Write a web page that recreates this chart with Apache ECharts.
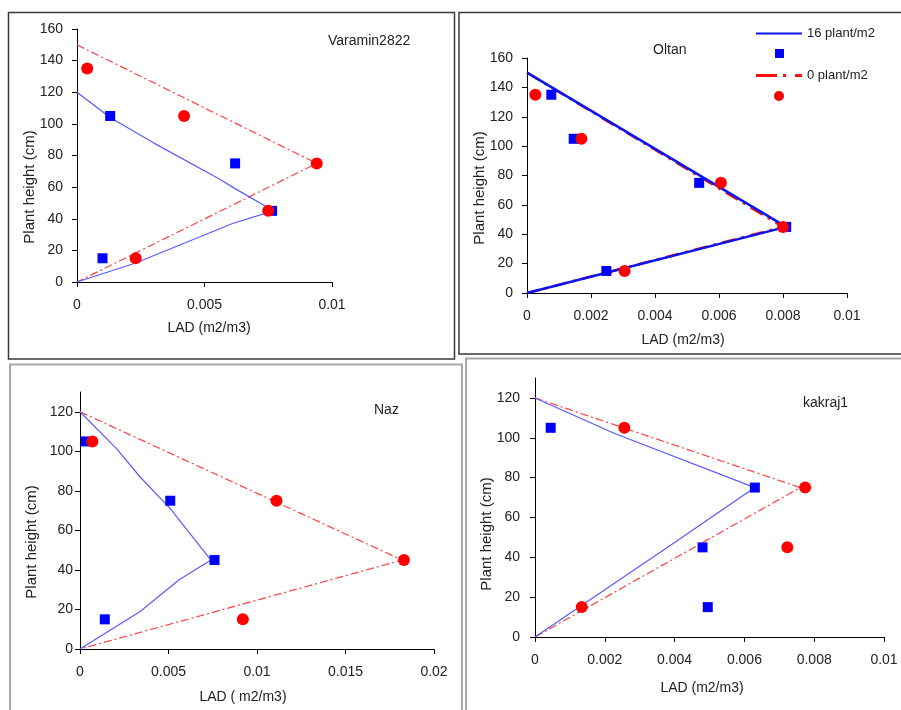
<!DOCTYPE html>
<html>
<head>
<meta charset="utf-8">
<script src="https://cdn.jsdelivr.net/npm/echarts@6/dist/echarts.min.js"></script>
<style>
  html, body { margin: 0; padding: 0; background: #fff; }
  #chart { width: 901px; height: 710px; }
</style>
</head>
<body>
<div id="chart"></div>
<script>
"use strict";

// observed sampling heights (cm)
const obsHeights = [135, 105, 75, 45, 15];

// Varamin2822 (LAD m2/m3)
const varaminObs16 = [null, 0.0013, 0.0062, 0.00765, 0.001];
const varaminObs0 = [0.0004, 0.0042, 0.0094, 0.0075, 0.0023];
const varaminFitH16 = [120, 104, 88, 65, 60, 45, 37, 12, 0];
const varaminFit16 = [0, 0.0013, 0.003, 0.0056, 0.0061, 0.0077, 0.0061, 0.0023, 0];
const varaminFitH0 = [150, 75, 0];
const varaminFit0 = [0, 0.0094, 0];

// Oltan
const oltanObs16 = [0.00076, 0.00146, 0.00538, 0.0081, 0.00248];
const oltanObs0 = [0.00026, 0.0017, 0.00606, 0.008, 0.00305];
const oltanFitH16 = [150, 45, 0];
const oltanFit16 = [0, 0.0081, 0];
const oltanFitH0 = [150, 45, 0];
const oltanFit0 = [0, 0.008, 0];

// Naz
const nazObs16 = [null, 0.00034, 0.0051, 0.0076, 0.0014];
const nazObs0 = [null, 0.0007, 0.0111, 0.0183, 0.0092];
const nazFitH16 = [120, 101, 87, 71, 45, 35, 19, 9.5, 0];
const nazFit16 = [0, 0.0021, 0.0034, 0.0051, 0.0074, 0.0056, 0.0034, 0.0017, 0];
const nazFitH0 = [120, 45, 0];
const nazFit0 = [0, 0.0182, 0];

// kakraj1
const kakrajObs16 = [null, 0.00045, 0.0063, 0.0048, 0.00495];
const kakrajObs0 = [null, 0.00256, 0.00774, 0.00723, 0.00134];
const kakrajFitH16 = [120, 102, 75, 45, 0];
const kakrajFit16 = [0, 0.0023, 0.0063, 0.0038, 0];
const kakrajFitH0 = [120, 75, 0];
const kakrajFit0 = [0, 0.0076, 0];

const FONT = '"Liberation Sans", Arial, sans-serif';
const TXT = '#222';

function pairs(xs, ys) {
  let out = [];
  for (let i = 0; i < xs.length; i++) {
    if (xs[i] !== null) out.push([xs[i], ys[i]]);
  }
  return out;
}

// one panel = grid + axes + 4 series
const panels = [
  {
    name: 'Varamin2822', grid: {left: 77, top: 29, width: 255, height: 253},
    xMax: 0.01, xStep: 0.005, yMax: 160, yLabelMargin: 14,
    obs16: varaminObs16, obs0: varaminObs0,
    fit16: [varaminFit16, varaminFitH16], fit0: [varaminFit0, varaminFitH0],
    thick: false
  },
  {
    name: 'Oltan', grid: {left: 527, top: 58, width: 320, height: 235},
    xMax: 0.01, xStep: 0.002, yMax: 160, yLabelMargin: 14,
    obs16: oltanObs16, obs0: oltanObs0,
    fit16: [oltanFit16, oltanFitH16], fit0: [oltanFit0, oltanFitH0],
    thick: true
  },
  {
    name: 'Naz', grid: {left: 80, top: 392, width: 354, height: 257},
    xMax: 0.02, xStep: 0.005, yMax: 130, yLabelMargin: 7,
    obs16: nazObs16, obs0: nazObs0,
    fit16: [nazFit16, nazFitH16], fit0: [nazFit0, nazFitH0],
    thick: false
  },
  {
    name: 'kakraj1', grid: {left: 535, top: 378, width: 349, height: 259},
    xMax: 0.01, xStep: 0.002, yMax: 130, yLabelMargin: 15,
    obs16: kakrajObs16, obs0: kakrajObs0,
    fit16: [kakrajFit16, kakrajFitH16], fit0: [kakrajFit0, kakrajFitH0],
    thick: false
  }
];

const axisLine = {show: true, onZero: false, lineStyle: {color: '#000', width: 1}};
const axisTick = {show: true, inside: false, length: 5, lineStyle: {color: '#000'}};

let grids = [], xAxes = [], yAxes = [], series = [];

panels.forEach((p, i) => {
  grids.push(Object.assign({containLabel: false}, p.grid));

  xAxes.push({
    type: 'value', gridIndex: i, min: 0, max: p.xMax, interval: p.xStep,
    axisLine: axisLine, axisTick: axisTick, splitLine: {show: false},
    axisLabel: {color: TXT, fontFamily: FONT, fontSize: 14, margin: 16}
  });

  let yTicks = [];
  for (let v = 0; v <= 160 && v <= p.yMax; v += 20) yTicks.push(v);
  yAxes.push({
    type: 'value', gridIndex: i, min: 0, max: p.yMax,
    axisLine: axisLine, splitLine: {show: false},
    axisTick: Object.assign({customValues: yTicks}, axisTick),
    axisLabel: {color: TXT, fontFamily: FONT, fontSize: 14, margin: p.yLabelMargin, customValues: yTicks}
  });

  let blueLine = p.thick ? {color: '#0a14f0', width: 2.5} : {color: '#5a5aff', width: 1.2};
  let redLine = p.thick
    ? {color: '#ff1010', width: 2.5, type: [14, 6, 3, 6]}
    : {color: '#ff4040', width: 1.2, type: [8, 3, 2, 3]};
  let tag = i === 1 ? '' : p.name + ' ';

  series.push({
    name: tag + '0 plant/m2', type: 'line', xAxisIndex: i, yAxisIndex: i,
    data: pairs(p.fit0[0], p.fit0[1]), symbol: 'none', lineStyle: redLine,
    itemStyle: {color: redLine.color}, silent: true, animation: false, z: 2
  });
  series.push({
    name: tag + '16 plant/m2', type: 'line', xAxisIndex: i, yAxisIndex: i,
    data: pairs(p.fit16[0], p.fit16[1]), symbol: 'none', lineStyle: blueLine,
    itemStyle: {color: blueLine.color}, silent: true, animation: false, z: 3
  });
  series.push({
    name: tag + '16 obs', type: 'scatter', xAxisIndex: i, yAxisIndex: i,
    data: pairs(p.obs16, obsHeights), symbol: 'rect', symbolSize: 10,
    itemStyle: {color: '#0000ff', opacity: 1}, animation: false, z: 4
  });
  series.push({
    name: tag + '0 obs', type: 'scatter', xAxisIndex: i, yAxisIndex: i,
    data: pairs(p.obs0, obsHeights), symbol: 'circle', symbolSize: 12,
    itemStyle: {color: '#ff0000', opacity: 1}, animation: false, z: 5
  });
});

// panel titles
const titles = [
  {text: 'Varamin2822', left: 328, top: 34},
  {text: 'Oltan', left: 653, top: 43},
  {text: 'Naz', left: 374, top: 403},
  {text: 'kakraj1', left: 803, top: 396}
].map(t => Object.assign(t, {
  padding: 0,
  textStyle: {color: TXT, fontFamily: FONT, fontSize: 14, fontWeight: 'normal'}
}));

// axis titles, centre positions
const yNames = [[30, 187], [480, 188], [32, 542], [487, 534]];
const xNames = [[209, 328, 'LAD (m2/m3)'], [683, 340, 'LAD (m2/m3)'],
                [243, 697, 'LAD ( m2/m3)'], [702, 688, 'LAD (m2/m3)']];

let graphics = [
  {type: 'rect', shape: {x: 8.5, y: 12.5, width: 446, height: 346.5}, style: {fill: 'none', stroke: '#3a3a3a', lineWidth: 1.5}, silent: true},
  {type: 'rect', shape: {x: 459, y: 12.5, width: 450, height: 341.5}, style: {fill: 'none', stroke: '#3a3a3a', lineWidth: 1.5}, silent: true},
  {type: 'rect', shape: {x: 10, y: 364.5, width: 452, height: 360}, style: {fill: 'none', stroke: '#a8a8a8', lineWidth: 2}, silent: true},
  {type: 'rect', shape: {x: 466, y: 358.5, width: 450, height: 360}, style: {fill: 'none', stroke: '#a8a8a8', lineWidth: 2}, silent: true}
];
yNames.forEach(c => graphics.push({
  type: 'text', x: c[0], y: c[1], rotation: Math.PI / 2, silent: true,
  style: {text: 'Plant height (cm)', fill: TXT, font: '15px ' + FONT, align: 'center', verticalAlign: 'middle'}
}));
xNames.forEach(c => graphics.push({
  type: 'text', x: c[0], y: c[1], silent: true,
  style: {text: c[2], fill: TXT, font: '14px ' + FONT, align: 'center', verticalAlign: 'middle'}
}));

// legend in the Oltan panel: one legend per row so each icon can be sized
const legendText = {color: TXT, fontFamily: FONT, fontSize: 13};
const legends = [
  {data: ['16 plant/m2'], left: 756, top: 27, itemWidth: 46, itemHeight: 2,
   icon: 'path://M0,0H46V2H0Z', textStyle: legendText},
  {data: ['16 obs'], left: 775, top: 49, itemWidth: 9, itemHeight: 9, formatter: () => '', textStyle: legendText},
  {data: ['0 plant/m2'], left: 756, top: 69, itemWidth: 46, itemHeight: 3,
   icon: 'path://M0,0H21V3H0Z M27,0H30V3H27Z M39,0H46V3H39Z', textStyle: legendText},
  {data: ['0 obs'], left: 774, top: 91, itemWidth: 10, itemHeight: 10, formatter: () => '', textStyle: legendText}
].map(l => Object.assign(l, {orient: 'vertical', padding: 0, selectedMode: false, symbolKeepAspect: false}));

const chart = echarts.init(document.getElementById('chart'), null, {renderer: 'canvas'});
chart.setOption({
  animation: false,
  backgroundColor: '#fff',
  title: titles,
  legend: legends,
  grid: grids,
  xAxis: xAxes,
  yAxis: yAxes,
  series: series,
  graphic: graphics
});
</script>
</body>
</html>
